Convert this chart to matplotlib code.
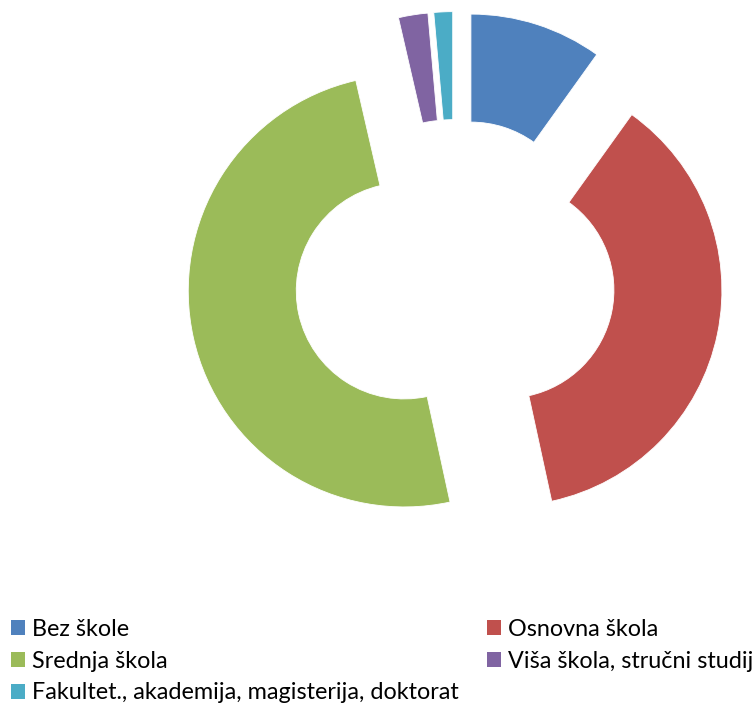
import matplotlib
matplotlib.use("Agg")
import matplotlib.pyplot as plt
from matplotlib.patches import Patch

categories = ["Bez škole", "Osnovna škola", "Srednja škola",
              "Viša škola, stručni studij",
              "Fakultet., akademija, magisterija, doktorat"]
values = [9.9, 36.7, 49.8, 2.2, 1.4]
colors = ["#4F81BD", "#C0504D", "#9BBB59", "#8064A2", "#4BACC6"]

W, H = 755, 704
fig = plt.figure(figsize=(W / 100, H / 100), dpi=100)
ax = fig.add_axes([0, 0, 1, 1])

cx, cy = 455, H - 279.6
R = 216
ax.pie(values, colors=colors, startangle=90, counterclock=False,
       center=(cx, cy), radius=R, explode=[52] * len(values),
       wedgeprops=dict(width=108, edgecolor="white", linewidth=0.6),
       frame=True)
ax.set_xlim(0, W)
ax.set_ylim(0, H)
ax.set_aspect("equal")
ax.axis("off")

order = [0, 2, 4, 1, 3]
handles = [Patch(facecolor=colors[i], edgecolor="none") for i in order]
labels = [categories[i] for i in order]
fig.legend(handles, labels, ncol=2, loc="upper left",
           bbox_to_anchor=(11 / W, 1 - 619 / H), frameon=False,
           prop=dict(family="Lato", size=16.8),
           handlelength=0.6, handleheight=0.6, handletextpad=0.3,
           labelspacing=0.46, columnspacing=1.2, borderpad=0, borderaxespad=0)

fig.savefig("out.png", dpi=100)
